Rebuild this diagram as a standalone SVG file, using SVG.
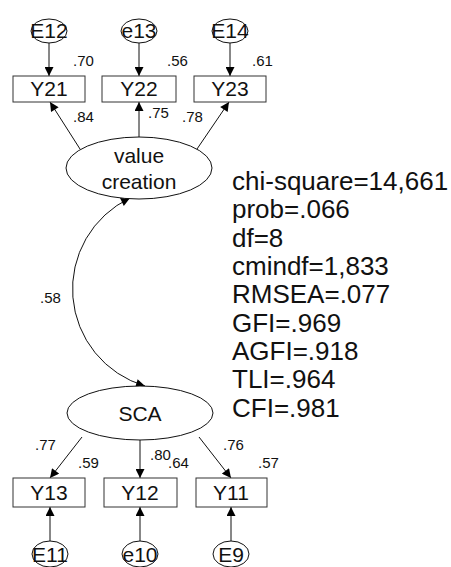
<svg xmlns="http://www.w3.org/2000/svg" width="451" height="567" viewBox="0 0 451 567">
  <style>
    .box { fill: #fff; stroke: #333; stroke-width: 1; }
    .lat { fill: #fff; stroke: #111; stroke-width: 1; }
    .err { fill: #fff; stroke: #111; stroke-width: 1; }
    .name { font-family: "Liberation Sans", Arial, sans-serif; font-size: 21px; fill: #111; text-anchor: middle; }
    .coef { font-family: "Liberation Sans", Arial, sans-serif; font-size: 15px; fill: #111; }
    .fit { font-family: "Liberation Sans", Arial, sans-serif; font-size: 26px; fill: #111; }
    .path { fill: none; stroke: #111; stroke-width: 1; }
  </style>
  <defs>
    <marker id="arrow" viewBox="0 0 10 10" refX="10" refY="5" markerWidth="11" markerHeight="9" markerUnits="userSpaceOnUse" orient="auto-start-reverse">
      <path d="M0,0 L10,5 L0,10 z" fill="#000"/>
    </marker>
  </defs>
  <rect width="451" height="567" fill="#fff"/>

  <!-- connectors -->
  <g id="connectors" class="path">
    <line x1="49" y1="43" x2="49" y2="76" marker-end="url(#arrow)"/>
    <line x1="139" y1="43" x2="139" y2="76" marker-end="url(#arrow)"/>
    <line x1="230" y1="43" x2="230" y2="76" marker-end="url(#arrow)"/>
    <line x1="80" y1="149" x2="50" y2="102" marker-end="url(#arrow)"/>
    <line x1="139" y1="137" x2="139" y2="102" marker-end="url(#arrow)"/>
    <line x1="197" y1="149" x2="229" y2="102" marker-end="url(#arrow)"/>
    <path d="M130,198 A101,101 0 0 0 145,386" marker-start="url(#arrow)" marker-end="url(#arrow)"/>
    <line x1="82" y1="437" x2="50" y2="478" marker-end="url(#arrow)"/>
    <line x1="140" y1="440" x2="140" y2="478" marker-end="url(#arrow)"/>
    <line x1="199" y1="437" x2="231" y2="478" marker-end="url(#arrow)"/>
    <line x1="50" y1="541" x2="50" y2="507" marker-end="url(#arrow)"/>
    <line x1="140" y1="541" x2="140" y2="507" marker-end="url(#arrow)"/>
    <line x1="231" y1="541" x2="231" y2="507" marker-end="url(#arrow)"/>
  </g>

  <!-- error terms -->
  <g id="E12"><ellipse class="err" cx="49" cy="31" rx="18" ry="12"/><text class="name" x="49" y="38">E12</text></g>
  <g id="e13"><ellipse class="err" cx="139" cy="31" rx="18" ry="12"/><text class="name" x="139" y="38">e13</text></g>
  <g id="E14"><ellipse class="err" cx="230" cy="31" rx="18" ry="12"/><text class="name" x="230" y="38">E14</text></g>
  <g id="E11"><ellipse class="err" cx="50" cy="554" rx="18" ry="13"/><text class="name" x="50" y="562">E11</text></g>
  <g id="e10"><ellipse class="err" cx="140" cy="554" rx="18" ry="13"/><text class="name" x="140" y="562">e10</text></g>
  <g id="E9"><ellipse class="err" cx="231" cy="554" rx="18" ry="13"/><text class="name" x="231" y="562">E9</text></g>

  <!-- observed indicators -->
  <g id="Y21"><rect class="box" x="13" y="76" width="72" height="26"/><text class="name" x="49" y="96">Y21</text></g>
  <g id="Y22"><rect class="box" x="102" y="76" width="74" height="26"/><text class="name" x="139" y="96">Y22</text></g>
  <g id="Y23"><rect class="box" x="194" y="76" width="72" height="26"/><text class="name" x="230" y="96">Y23</text></g>
  <g id="Y13"><rect class="box" x="13" y="478" width="72" height="29"/><text class="name" x="49" y="500">Y13</text></g>
  <g id="Y12"><rect class="box" x="104" y="478" width="73" height="29"/><text class="name" x="140" y="500">Y12</text></g>
  <g id="Y11"><rect class="box" x="196" y="478" width="71" height="29"/><text class="name" x="231" y="500">Y11</text></g>

  <!-- latent factors -->
  <g id="value-creation"><ellipse class="lat" cx="139" cy="168" rx="73" ry="31"/><text class="name" x="139" y="163">value</text><text class="name" x="139" y="189">creation</text></g>
  <g id="SCA"><ellipse class="lat" cx="140" cy="413" rx="73" ry="27"/><text class="name" x="140" y="421">SCA</text></g>

  <!-- coefficients -->
  <g id="estimates" class="coef">
    <text x="73" y="66">.70</text>
    <text x="167" y="66">.56</text>
    <text x="252" y="66">.61</text>
    <text x="73" y="122">.84</text>
    <text x="148" y="118">.75</text>
    <text x="182" y="122">.78</text>
    <text x="40" y="303">.58</text>
    <text x="35" y="450">.77</text>
    <text x="78" y="468">.59</text>
    <text x="150" y="460">.80</text>
    <text x="168" y="468">.64</text>
    <text x="223" y="450">.76</text>
    <text x="258" y="468">.57</text>
  </g>

  <!-- fit statistics -->
  <g id="fit" class="fit">
    <text x="232" y="190">chi-square=14,661</text>
    <text x="232" y="218">prob=.066</text>
    <text x="232" y="247">df=8</text>
    <text x="232" y="275">cmindf=1,833</text>
    <text x="232" y="303">RMSEA=.077</text>
    <text x="232" y="332">GFI=.969</text>
    <text x="232" y="360">AGFI=.918</text>
    <text x="232" y="388">TLI=.964</text>
    <text x="232" y="417">CFI=.981</text>
  </g>
</svg>
